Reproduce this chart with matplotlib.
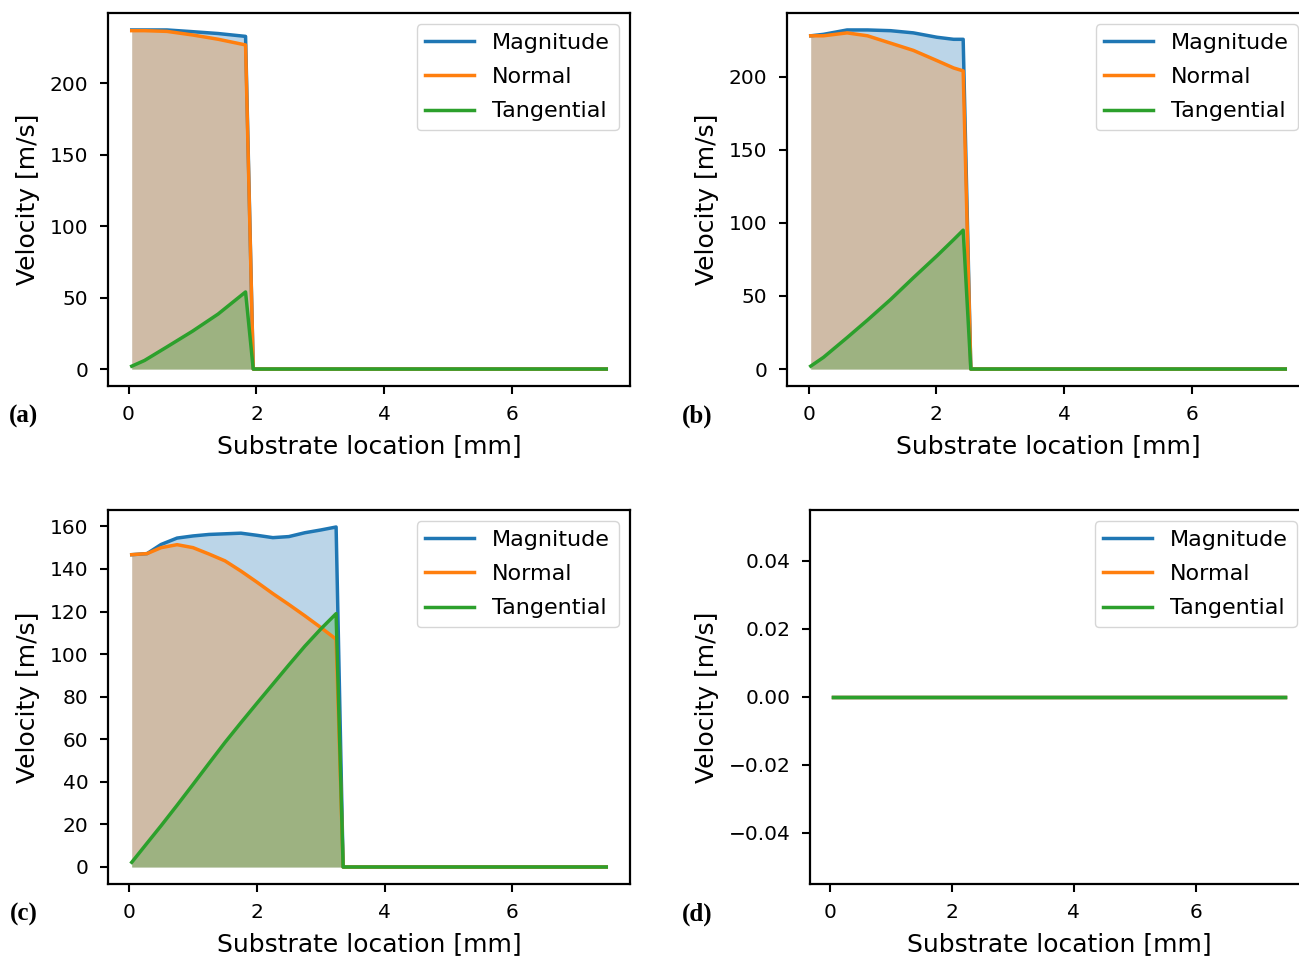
import matplotlib
matplotlib.use("Agg")
import matplotlib.pyplot as plt

# ---------------- data ----------------
labels = ["Magnitude", "Normal", "Tangential"]
panel_tags = ["(a)", "(b)", "(c)", "(d)"]

xa = [0.05, 0.25, 0.6, 1.0, 1.4, 1.83, 1.95, 7.47]
mag_a = [237.5, 237.5, 237.5, 236.3, 235.0, 233.0, 0, 0]
norm_a = [237.0, 237.0, 236.5, 234.0, 231.0, 227.0, 0, 0]
tan_a = [2.0, 6.0, 15.5, 26.5, 38.5, 54.0, 0, 0]

xb = [0.03, 0.23, 0.6, 0.92, 1.28, 1.64, 2.01, 2.27, 2.42, 2.54, 7.47]
mag_b = [228.0, 229.0, 232.0, 232.0, 231.5, 230.0, 227.0, 225.6, 225.6, 0, 0]
norm_b = [228.0, 228.0, 230.0, 228.0, 223.0, 218.0, 211.0, 206.0, 204.0, 0, 0]
tan_b = [2.0, 8.0, 21.5, 33.5, 47.5, 62.5, 77.5, 88.5, 95.0, 0, 0]

xc = [0.04, 0.28, 0.5, 0.75, 1.0, 1.25, 1.5, 1.75, 2.0, 2.25, 2.5, 2.75,
      3.0, 3.24, 3.35, 7.47]
mag_c = [146.7, 147.2, 151.5, 154.5, 155.5, 156.2, 156.5, 156.8, 155.8,
         154.7, 155.2, 157.0, 158.3, 159.7, 0, 0]
norm_c = [146.7, 147.2, 150.0, 151.4, 150.0, 147.0, 143.8, 139.0, 133.8,
          128.4, 123.3, 118.0, 112.5, 107.0, 0, 0]
tan_c = [2.2, 11.2, 19.4, 29.0, 38.8, 48.7, 58.5, 67.8, 76.9, 85.9, 94.9,
         103.7, 111.8, 119.0, 0, 0]

xd = [0.05, 7.47]
mag_d = [0.0, 0.0]
norm_d = [0.0, 0.0]
tan_d = [0.0, 0.0]

panels = [
    (xa, [mag_a, norm_a, tan_a]),
    (xb, [mag_b, norm_b, tan_b]),
    (xc, [mag_c, norm_c, tan_c]),
    (xd, [mag_d, norm_d, tan_d]),
]

# ---------------- layout ----------------
W, H = 1299, 958
# (left, top, right, bottom) in pixels
boxes = [
    (108, 13, 630, 386),
    (787, 13, 1309, 386),
    (108, 510, 630, 884),
    (810, 510, 1308, 884),
]
tag_pos = [(24, 416), (697, 416), (24, 914), (697, 914)]
colors = ["#1f77b4", "#ff7f0e", "#2ca02c"]

plt.rcParams["font.family"] = ["DejaVu Sans"]
fig = plt.figure(figsize=(W / 100, H / 100), dpi=100)

for (x, series), (l, t, r, b), (tx, ty), tag in zip(panels, boxes, tag_pos, panel_tags):
    ax = fig.add_axes([l / W, 1 - b / H, (r - l) / W, (b - t) / H])
    for y, c, lab in zip(series, colors, labels):
        ax.plot(x, y, color=c, lw=2.5, label=lab)
        ax.fill_between(x, y, color=c, alpha=0.3, lw=0)
    ax.set_xticks([0, 2, 4, 6])
    ax.set_xlabel("Substrate location [mm]", fontsize=18, labelpad=7)
    ax.set_ylabel("Velocity [m/s]", fontsize=18, labelpad=7)
    ax.tick_params(labelsize=14.5, length=6, width=1.5, pad=8)
    for s in ax.spines.values():
        s.set_linewidth(1.6)
    ax.legend(loc="upper right", fontsize=16, handlelength=2.2,
              labelspacing=0.64)
    fig.text(tx / W, 1 - ty / H, tag, fontsize=18, fontweight="bold",
             family="Liberation Serif", ha="center", va="center")

fig.savefig("out.png", dpi=100)
